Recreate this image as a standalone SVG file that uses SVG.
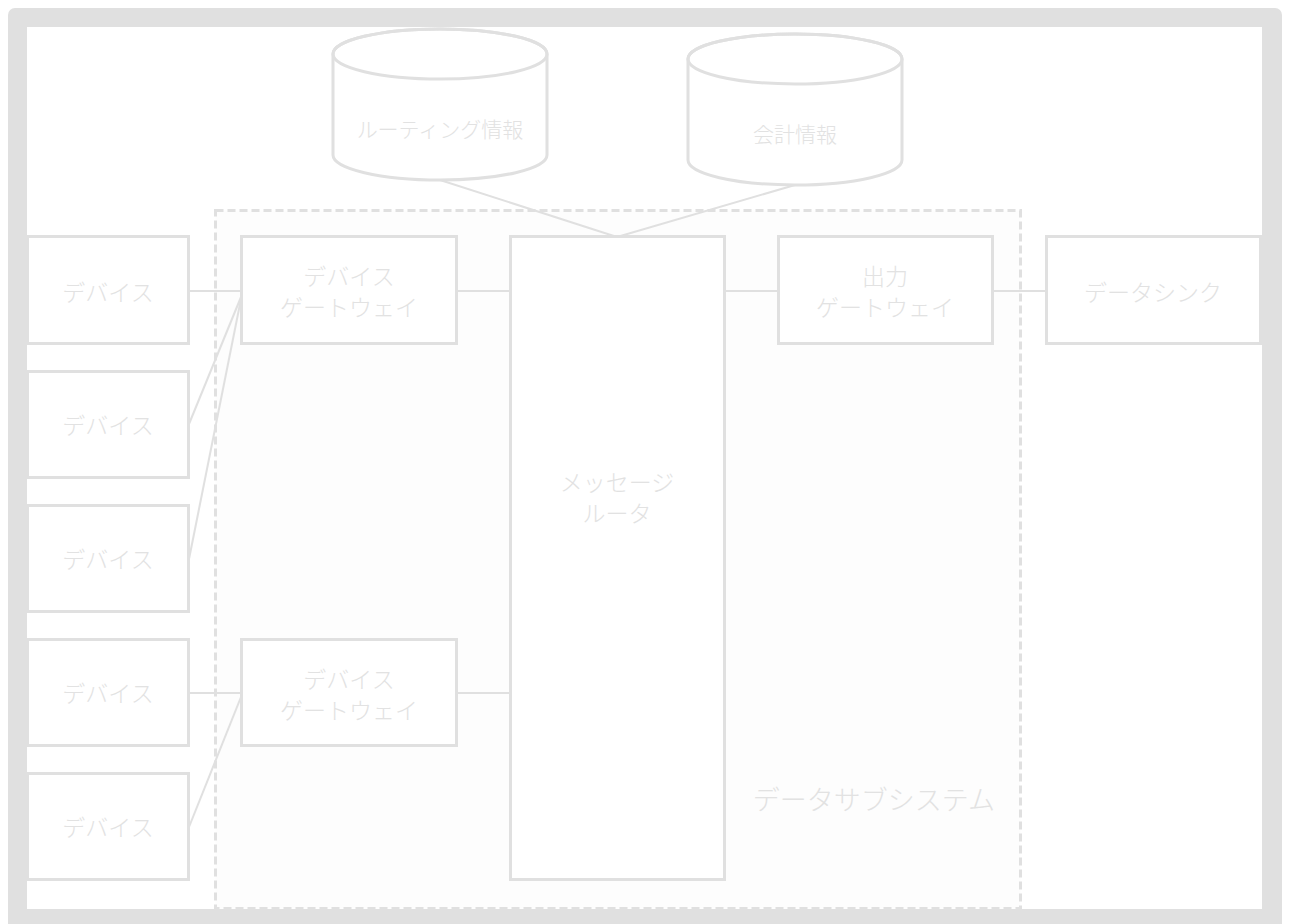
<svg xmlns="http://www.w3.org/2000/svg" width="1290" height="924" viewBox="0 0 1290 924">
<style>
.box{fill:#ffffff;stroke:#e0e0e0;stroke-width:3}
.cyl{fill:#ffffff;stroke:#e0e0e0;stroke-width:3}
.lbl{font-family:"Noto Sans CJK JP","Noto Sans",sans-serif;font-weight:300;font-size:23px;fill:#e2e2e2;text-anchor:middle;dominant-baseline:central}
.db{font-size:21px}
.conn line{stroke:#e0e0e0;stroke-width:2}
</style>
<rect x="8" y="8" width="1274" height="940" rx="7" fill="#e0e0e0"/>
<rect x="27" y="27" width="1235" height="882" fill="#ffffff"/>

<g id="subsystem">
<rect x="215.5" y="210.5" width="805" height="698" fill="#fdfdfd" stroke="#e0e0e0" stroke-width="3" stroke-dasharray="8,4"/>
<text class="lbl" x="995" y="798" style="font-size:27px;text-anchor:end">データサブシステム</text>
</g>

<g class="conn" id="connectors">
<line x1="440" y1="180" x2="617" y2="237"/>
<line x1="795" y1="185" x2="617" y2="237"/>
<line x1="189" y1="291" x2="241" y2="291"/>
<line x1="189" y1="424" x2="241" y2="297"/>
<line x1="189" y1="559" x2="241" y2="299"/>
<line x1="457" y1="291" x2="510" y2="291"/>
<line x1="725" y1="291" x2="778" y2="291"/>
<line x1="993" y1="291" x2="1046" y2="291"/>
<line x1="189" y1="693" x2="241" y2="693"/>
<line x1="189" y1="827" x2="241" y2="697"/>
<line x1="457" y1="693" x2="510" y2="693"/>
</g>

<g id="routing-db">
<path class="cyl" d="M333,54 L333,155 A107,25 0 0 0 547,155 L547,54 A107,25 0 0 0 333,54 Z"/>
<ellipse cx="440" cy="54" rx="107" ry="25" fill="none" stroke="#e0e0e0" stroke-width="3"/>
<text class="lbl db" x="440" y="128">ルーティング情報</text>
</g>
<g id="accounting-db">
<path class="cyl" d="M688,59 L688,160 A107,25 0 0 0 902,160 L902,59 A107,25 0 0 0 688,59 Z"/>
<ellipse cx="795" cy="59" rx="107" ry="25" fill="none" stroke="#e0e0e0" stroke-width="3"/>
<text class="lbl db" x="795" y="133">会計情報</text>
</g>

<g id="device1"><rect class="box" x="27.5" y="236.5" width="161" height="107"/><text class="lbl" x="108" y="291">デバイス</text></g>
<g id="device2"><rect class="box" x="27.5" y="371.5" width="161" height="106"/><text class="lbl" x="108" y="424">デバイス</text></g>
<g id="device3"><rect class="box" x="27.5" y="505.5" width="161" height="106"/><text class="lbl" x="108" y="558">デバイス</text></g>
<g id="device4"><rect class="box" x="27.5" y="639.5" width="161" height="106"/><text class="lbl" x="108" y="692">デバイス</text></g>
<g id="device5"><rect class="box" x="27.5" y="773.5" width="161" height="106"/><text class="lbl" x="108" y="826">デバイス</text></g>

<g id="gateway1"><rect class="box" x="241.5" y="236.5" width="215" height="107"/><text class="lbl" x="349" y="275">デバイス</text><text class="lbl" x="349" y="306">ゲートウェイ</text></g>
<g id="gateway2"><rect class="box" x="241.5" y="639.5" width="215" height="106"/><text class="lbl" x="349" y="678">デバイス</text><text class="lbl" x="349" y="709">ゲートウェイ</text></g>

<g id="router"><rect class="box" x="510.5" y="236.5" width="214" height="643"/><text class="lbl" x="617" y="481">メッセージ</text><text class="lbl" x="617" y="512">ルータ</text></g>

<g id="output-gateway"><rect class="box" x="778.5" y="236.5" width="214" height="107"/><text class="lbl" x="885" y="275">出力</text><text class="lbl" x="885" y="306">ゲートウェイ</text></g>

<g id="datasink"><rect class="box" x="1046.5" y="236.5" width="214" height="107"/><text class="lbl" x="1153" y="291">データシンク</text></g>
</svg>
